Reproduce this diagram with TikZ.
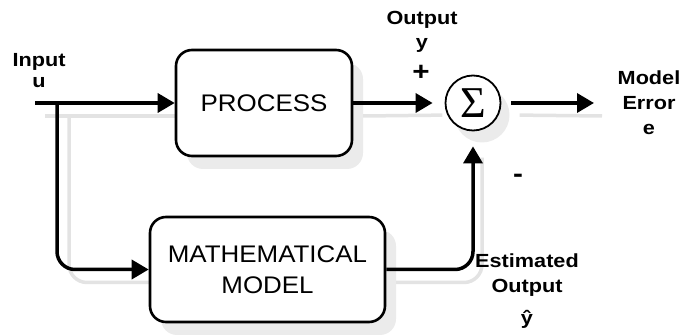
\documentclass[tikz,border=0pt]{standalone}
\usepackage{fontspec}
\setmainfont{Liberation Sans}
\newfontfamily\diagfont[FakeStretch=1.08]{Liberation Sans}
\newfontfamily\labfont[FakeStretch=1.14]{Liberation Sans}
\newfontfamily\sigfont{Liberation Serif}
\usetikzlibrary{arrows.meta}
\begin{document}
\begin{tikzpicture}[x=1pt,y=-1pt,
  box/.style={draw, fill=white, line width=2.6pt, rounded corners=16pt,
    font=\diagfont\fontsize{24}{31}\selectfont, align=center, inner sep=0pt},
  shbox/.style={fill=gray!16, rounded corners=16pt, inner sep=0pt},
  lab/.style={font=\labfont\bfseries\fontsize{19}{24}\selectfont, inner sep=0pt},
  flow/.style={line width=3.5pt, -{Triangle[length=17pt,width=19pt]}},
  shade/.style={gray!22, line width=3.5pt}]
\useasboundingbox (0,0) rectangle (683,336);

% shadows
\node[shbox, minimum width=176pt, minimum height=106pt] (processsh) at (275,116) {};
\node[shbox, minimum width=235pt, minimum height=105pt] (modelsh) at (278.5,282.5) {};
\node[circle, fill=gray!16, minimum size=55pt, inner sep=0pt] (sigmash) at (482,115) {};
\coordinate (insh) at (45,116);
\coordinate (brsh) at (69,116);
\coordinate (eoutsh) at (602,116);
\draw[shade] (insh) -- (processsh.west);
\draw[shade, rounded corners=18pt] (brsh) |- (modelsh.west);
\draw[shade, shorten >=12pt] (processsh.east) -- (sigmash.west);
\draw[shade, rounded corners=18pt, shorten >=15pt] (modelsh.east) -| (sigmash.south);
\draw[shade, shorten <=10pt] (sigmash.east) -- (eoutsh);

% main
\node[box, minimum width=176pt, minimum height=106pt] (process) at (264,103) {PROCESS};
\node[box, minimum width=235pt, minimum height=105pt] (model) at (267.5,269.5) {MATHEMATICAL\\MODEL};
\node[circle, draw, fill=white, line width=1.8pt, minimum size=55pt, inner sep=0pt,
  font=\sigfont\fontsize{44}{44}\selectfont] (sigma) at (473,103) {\raisebox{-1pt}{Σ}};

\coordinate (in) at (35,103);
\coordinate (br) at (57,103);
\coordinate (eout) at (594,103);

\draw[flow] (in) -- (process.west);
\draw[flow, rounded corners=18pt] (br) |- (model.west);
\draw[flow, shorten >=12pt] (process.east) -- (sigma.west);
\draw[flow, rounded corners=18pt, shorten >=15pt] (model.east) -| (sigma.south);
\draw[flow, shorten <=10pt] (sigma.east) -- (eout);

\node[lab, anchor=base] (inlab) at (39,67) {Input};
\node[lab, anchor=base] (ulab) at (39,88) {u};
\node[lab, anchor=base] (outlab) at (422,25) {Output};
\node[lab, anchor=base] (ylab) at (422,49) {y};
\node[lab, font=\labfont\bfseries\fontsize{26}{26}\selectfont] (plus) at (421,73) {+};
\node[lab, anchor=base] (modlab) at (649,85) {Model};
\node[lab, anchor=base] (errlab) at (649,110) {Error};
\node[lab, anchor=base] (elab) at (649,135) {e};
\node[lab, font=\labfont\bfseries\fontsize{26}{26}\selectfont] (minus) at (518,178) {-};
\node[lab, anchor=base] (estlab) at (527,268) {Estimated};
\node[lab, anchor=base] (eoutlab) at (527,293) {Output};
\node[lab, anchor=base] (yhatlab) at (527,325) {ŷ};
\end{tikzpicture}
\end{document}
